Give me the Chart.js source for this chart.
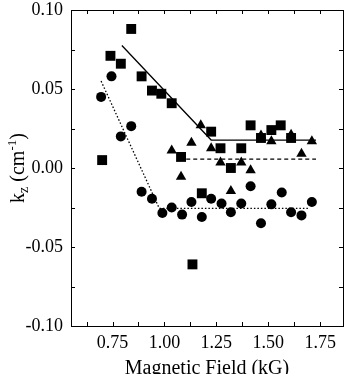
<!DOCTYPE html>
<html>
<head>
<meta charset="utf-8">
<script src="https://cdn.jsdelivr.net/npm/chart.js@4"></script>
<style>
  html, body { margin: 0; padding: 0; background: #fff; }
  #wrap { width: 350px; height: 374px; }
</style>
</head>
<body>
<div id="wrap"><canvas id="my-chart" width="350" height="374"></canvas></div>
<script>
// squares
const sqX = [0.70, 0.74, 0.79, 0.84, 0.89, 0.94, 0.985, 1.035, 1.08, 1.135, 1.18, 1.225, 1.27, 1.32, 1.37, 1.415, 1.465, 1.515, 1.56, 1.61];
const sqY = [0.005, 0.071, 0.066, 0.088, 0.058, 0.049, 0.047, 0.041, 0.007, -0.061, -0.016, 0.023, 0.0125, 0.0, 0.0125, 0.027, 0.019, 0.024, 0.027, 0.019];
// triangles
const triX = [1.035, 1.08, 1.13, 1.175, 1.225, 1.27, 1.32, 1.37, 1.415, 1.465, 1.515, 1.61, 1.66, 1.71];
const triY = [0.011, -0.0055, 0.016, 0.027, 0.0125, 0.0035, -0.0145, 0.0035, -0.0015, 0.0205, 0.017, 0.021, 0.009, 0.017];
// circles
const circX = [0.695, 0.745, 0.79, 0.84, 0.89, 0.94, 0.99, 1.035, 1.085, 1.13, 1.18, 1.225, 1.275, 1.32, 1.37, 1.415, 1.465, 1.515, 1.565, 1.61, 1.66, 1.71];
const circY = [0.045, 0.058, 0.020, 0.0265, -0.015, -0.0195, -0.0285, -0.025, -0.0295, -0.0215, -0.031, -0.0195, -0.0225, -0.028, -0.0225, -0.0115, -0.035, -0.023, -0.0155, -0.028, -0.030, -0.0215];
// fit lines
const solidX = [0.795, 1.225, 1.73], solidY = [0.0775, 0.0177, 0.0177];
const dashX = [1.105, 1.73], dashY = [0.0056, 0.0056];
const dotX = [0.695, 0.975, 1.70], dotY = [0.055, -0.0255, -0.0255];

const xTicks = [0.75, 1.00, 1.25, 1.50, 1.75];
const yTicks = [-0.10, -0.05, 0.00, 0.05, 0.10];
const xTitle = "Magnetic Field (kG)";

const pts = (xs, ys) => xs.map((x, i) => ({x: x, y: ys[i]}));
const serif = "'Liberation Serif', 'DejaVu Serif', serif";

// frame, inner ticks and axis titles
const frame = {
  id: 'frame',
  afterDraw(chart) {
    const {ctx, chartArea: a, scales} = chart;
    const xs = scales.x, ys = scales.y;
    ctx.save();
    ctx.strokeStyle = '#000';
    ctx.lineWidth = 1;
    ctx.strokeRect(a.left + 0.5, a.top + 0.5, a.right - a.left, a.bottom - a.top);
    ctx.beginPath();
    for (let v = 0.625; v <= 1.8; v += 0.125) {
      const px = Math.round(xs.getPixelForValue(v)) + 0.5;
      ctx.moveTo(px, a.bottom); ctx.lineTo(px, a.bottom - 4);
      ctx.moveTo(px, a.top); ctx.lineTo(px, a.top + 4);
    }
    for (let v = -0.075; v < 0.1; v += 0.025) {
      const py = Math.round(ys.getPixelForValue(v)) + 0.5;
      ctx.moveTo(a.left, py); ctx.lineTo(a.left + 4, py);
      ctx.moveTo(a.right, py); ctx.lineTo(a.right - 4, py);
    }
    ctx.stroke();

    ctx.fillStyle = '#000';
    ctx.font = '20px ' + serif;
    ctx.textAlign = 'center';
    ctx.textBaseline = 'middle';
    ctx.fillText(xTitle, (a.left + a.right) / 2, 369);

    // y title: k_z (cm^-1)
    const parts = [
      {t: 'k', size: 20, dy: 0},
      {t: 'z', size: 14, dy: 4},
      {t: ' (cm', size: 20, dy: 0},
      {t: '-1', size: 13, dy: -8},
      {t: ')', size: 20, dy: 0}
    ];
    let total = 0;
    parts.forEach(p => { ctx.font = p.size + 'px ' + serif; p.w = ctx.measureText(p.t).width; total += p.w; });
    ctx.translate(17, (a.top + a.bottom) / 2);
    ctx.rotate(-Math.PI / 2);
    ctx.textAlign = 'left';
    ctx.textBaseline = 'alphabetic';
    let cx = -total / 2;
    parts.forEach(p => {
      ctx.font = p.size + 'px ' + serif;
      ctx.fillText(p.t, cx, 7 + p.dy);
      cx += p.w;
    });
    ctx.restore();
  }
};

new Chart(document.getElementById("my-chart"), {
  type: 'scatter',
  data: {
    datasets: [
      {data: pts(solidX, solidY), showLine: true, pointRadius: 0, borderColor: '#000', borderWidth: 1.3},
      {data: pts(dashX, dashY), showLine: true, pointRadius: 0, borderColor: '#000', borderWidth: 1.3, borderDash: [4, 3]},
      {data: pts(dotX, dotY), showLine: true, pointRadius: 0, borderColor: '#000', borderWidth: 1.3, borderDash: [1.5, 2]},
      {data: pts(sqX, sqY), pointStyle: 'rect', pointRadius: 7, backgroundColor: '#000', borderColor: '#000', borderWidth: 0},
      {data: pts(triX, triY), pointStyle: 'triangle', pointRadius: 6, backgroundColor: '#000', borderColor: '#000', borderWidth: 0},
      {data: pts(circX, circY), pointStyle: 'circle', pointRadius: 5, backgroundColor: '#000', borderColor: '#000', borderWidth: 0}
    ]
  },
  options: {
    responsive: false,
    animation: false,
    layout: {padding: {top: 10, right: 4, left: 0, bottom: 0}},
    plugins: {legend: {display: false}, tooltip: {enabled: false}},
    scales: {
      x: {
        type: 'linear', min: 0.55, max: 1.86,
        grid: {display: false, drawTicks: false},
        border: {display: false},
        afterBuildTicks: s => { s.ticks = xTicks.map(v => ({value: v})); },
        afterFit: s => { s.height = 48; s.paddingLeft = 0; s.paddingRight = 0; },
        ticks: {padding: 6, color: '#000', font: {family: serif, size: 18}, maxRotation: 0,
          callback: v => Number(v).toFixed(2)}
      },
      y: {
        type: 'linear', min: -0.10, max: 0.10,
        grid: {display: false, drawTicks: false},
        border: {display: false},
        afterBuildTicks: s => { s.ticks = yTicks.map(v => ({value: v})); },
        afterFit: s => { s.width = 71; s.paddingTop = 0; s.paddingBottom = 0; },
        ticks: {padding: 8, color: '#000', font: {family: serif, size: 18},
          callback: v => Number(v).toFixed(2)}
      }
    }
  },
  plugins: [frame]
});
</script>
</body>
</html>
